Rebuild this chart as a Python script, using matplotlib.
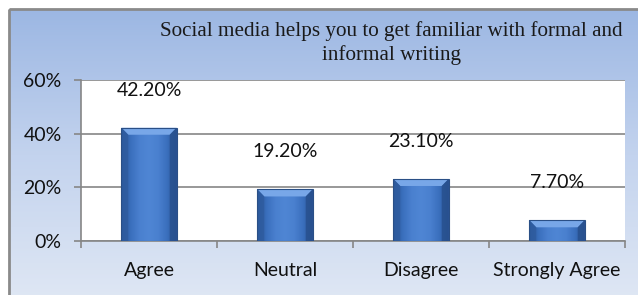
import numpy as np
import matplotlib
matplotlib.use("Agg")
import matplotlib.pyplot as plt
from matplotlib.patches import Rectangle, Polygon
from matplotlib.colors import LinearSegmentedColormap

categories = ["Agree", "Neutral", "Disagree", "Strongly Agree"]
values = [42.2, 19.2, 23.1, 7.7]
labels = ["42.20%", "19.20%", "23.10%", "7.70%"]
yticks = [0, 20, 40, 60]
ytick_labels = ["0%", "20%", "40%", "60%"]
title = "Social media helps you to get familiar with formal and\ninformal writing"

W, H = 638, 295
fig = plt.figure(figsize=(W / 100, H / 100), dpi=100)
fig.patch.set_facecolor("white")

# background gradient panel with frame
bg = fig.add_axes([0, 0, 1, 1], zorder=0)
bg.set_xlim(0, W)
bg.set_ylim(H, 0)
bg.axis("off")
grad = np.linspace(0, 1, 256).reshape(-1, 1)
bg_cmap = LinearSegmentedColormap.from_list("bg", ["#9cb7e3", "#c3d3ee", "#dfe7f4"])
bg.imshow(grad, cmap=bg_cmap, extent=[9, W + 5, H + 5, 9], aspect="auto", zorder=0)
bg.add_patch(Rectangle((9, 9), W, H, fill=False, edgecolor="#8a8a8a", lw=2, zorder=1))

ax = fig.add_axes([81 / W, 1 - 241 / H, (625 - 81) / W, (241 - 80) / H], zorder=2)
ax.set_facecolor("white")
x = np.arange(len(categories))
ax.set_xlim(-0.5, len(categories) - 0.5)
ax.set_ylim(0, 60)

for s in ["top", "right"]:
    ax.spines[s].set_visible(False)
for s in ["left", "bottom"]:
    ax.spines[s].set_color("#868686")
    ax.spines[s].set_linewidth(1.2)

ax.set_yticks(yticks)
ax.set_yticklabels(ytick_labels)
ax.yaxis.grid(True, color="#868686", lw=1.2)
ax.set_axisbelow(True)
ax.tick_params(axis="y", length=5, color="#868686", width=1.2, pad=9)
ax.set_xticks(np.arange(-0.5, len(categories), 1.0))
ax.set_xticklabels([])
ax.set_xticks(x, minor=True)
ax.set_xticklabels(categories, minor=True)
ax.tick_params(axis="x", which="major", length=5, color="#868686", width=1.2)
ax.tick_params(axis="x", which="minor", length=0, pad=15)

font = "Lato"
for t in ax.get_yticklabels() + ax.get_xticklabels(minor=True):
    t.set_fontfamily(font)
    t.set_fontsize(14)
    t.set_color("#111111")

bw = 0.405
bars = ax.bar(x, values, width=bw, color="#3f74c2", zorder=3)
side_cmap = LinearSegmentedColormap.from_list(
    "side", ["#2b5697", "#3a6fbd", "#4a80cf", "#4f86d4", "#4a80cf", "#3a6fbd", "#2b5697"])
for b in bars:
    x0, y0 = b.get_x(), b.get_y()
    w, h = b.get_width(), b.get_height()
    im = ax.imshow(np.linspace(0, 1, 64).reshape(1, -1), cmap=side_cmap,
                   extent=[x0, x0 + w, y0, y0 + h], aspect="auto", zorder=3.5)
    im.set_clip_path(b)
    bev_x = 0.05
    bev_y = 2.6
    top = Polygon([[x0, y0 + h], [x0 + w, y0 + h], [x0 + w - bev_x, y0 + h - bev_y],
                   [x0 + bev_x, y0 + h - bev_y]], closed=True, facecolor="#78a7e8",
                  edgecolor="none", zorder=4)
    ax.add_patch(top)
    lside = Polygon([[x0, y0 + h], [x0 + bev_x, y0 + h - bev_y], [x0 + bev_x, y0], [x0, y0]],
                    closed=True, facecolor="#2e5b9e", edgecolor="none", zorder=4, alpha=0.8)
    rside = Polygon([[x0 + w, y0 + h], [x0 + w - bev_x, y0 + h - bev_y], [x0 + w - bev_x, y0], [x0 + w, y0]],
                    closed=True, facecolor="#274f8c", edgecolor="none", zorder=4, alpha=0.8)
    ax.add_patch(lside)
    ax.add_patch(rside)
    ax.add_patch(Rectangle((x0, y0), w, h, fill=False, edgecolor="#2a4f86", lw=0.8, zorder=4.5))

for xi, v, lab in zip(x, values, labels):
    ax.annotate(lab, (xi, v), xytext=(0, 27), textcoords="offset points",
                ha="center", va="center", fontsize=14, fontfamily=font,
                color="#111111", zorder=5, annotation_clip=False)

fig.text(391 / W, 1 - 43 / H, title, ha="center", va="center", fontsize=15.2,
         fontfamily="Liberation Serif", color="#1a1a1a", linespacing=1.25)

fig.savefig("out.png", dpi=100, facecolor=fig.get_facecolor())
